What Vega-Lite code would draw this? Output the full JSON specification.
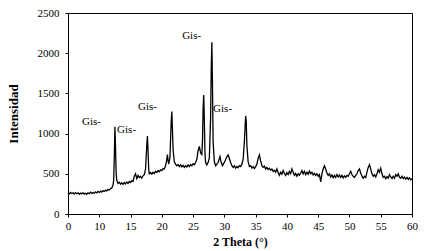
{
  "$schema": "https://vega.github.io/schema/vega-lite/v6.json",
  "width": 344,
  "height": 201,
  "autosize": "none",
  "padding": {"left": 68, "top": 13, "right": 20, "bottom": 37},
  "background": "white",
  "config": {
    "view": {"stroke": "black", "strokeWidth": 1},
    "axis": {"grid": false, "domainColor": "black", "tickColor": "black", "labelColor": "black", "titleColor": "black", "labelFont": "Liberation Serif", "titleFont": "Liberation Serif", "labelFontSize": 11, "titleFontSize": 11, "tickSize": 3, "labelOverlap": false}
  },
  "datasets": {
    "xrd": [
      {"t":5.0,"i":262},{"t":5.2,"i":250},{"t":5.4,"i":268},{"t":5.6,"i":255},{"t":5.8,"i":264},{"t":6.0,"i":248},{"t":6.2,"i":266},{"t":6.4,"i":252},{"t":6.6,"i":262},{"t":6.8,"i":245},
      {"t":7.0,"i":260},{"t":7.2,"i":250},{"t":7.4,"i":266},{"t":7.6,"i":248},{"t":7.8,"i":258},{"t":8.0,"i":244},{"t":8.2,"i":262},{"t":8.4,"i":252},{"t":8.6,"i":270},{"t":8.8,"i":255},
      {"t":9.0,"i":266},{"t":9.2,"i":258},{"t":9.4,"i":276},{"t":9.6,"i":262},{"t":9.8,"i":280},{"t":10.0,"i":268},{"t":10.2,"i":284},{"t":10.4,"i":272},{"t":10.6,"i":290},{"t":10.8,"i":280},
      {"t":11.0,"i":296},{"t":11.2,"i":286},{"t":11.4,"i":304},{"t":11.6,"i":298},{"t":11.8,"i":316},{"t":12.0,"i":322},{"t":12.2,"i":360},{"t":12.3,"i":420},{"t":12.4,"i":700},{"t":12.5,"i":1085},
      {"t":12.6,"i":820},{"t":12.7,"i":500},{"t":12.8,"i":420},{"t":13.0,"i":380},{"t":13.2,"i":395},{"t":13.4,"i":370},{"t":13.6,"i":388},{"t":13.8,"i":368},{"t":14.0,"i":392},{"t":14.2,"i":375},
      {"t":14.4,"i":398},{"t":14.6,"i":380},{"t":14.8,"i":404},{"t":15.0,"i":392},{"t":15.2,"i":415},{"t":15.4,"i":405},{"t":15.6,"i":470},{"t":15.8,"i":500},{"t":16.0,"i":440},{"t":16.2,"i":480},
      {"t":16.4,"i":455},{"t":16.6,"i":470},{"t":16.8,"i":445},{"t":17.0,"i":475},{"t":17.2,"i":490},{"t":17.4,"i":560},{"t":17.6,"i":860},{"t":17.7,"i":970},{"t":17.8,"i":780},{"t":17.9,"i":560},
      {"t":18.0,"i":500},{"t":18.2,"i":515},{"t":18.4,"i":495},{"t":18.6,"i":520},{"t":18.8,"i":505},{"t":19.0,"i":530},{"t":19.2,"i":515},{"t":19.4,"i":540},{"t":19.6,"i":525},{"t":19.8,"i":548},
      {"t":20.0,"i":540},{"t":20.2,"i":565},{"t":20.4,"i":560},{"t":20.6,"i":600},{"t":20.8,"i":680},{"t":20.9,"i":740},{"t":21.0,"i":660},{"t":21.1,"i":620},{"t":21.3,"i":700},{"t":21.5,"i":1150},
      {"t":21.6,"i":1275},{"t":21.7,"i":1050},{"t":21.8,"i":800},{"t":22.0,"i":650},{"t":22.2,"i":620},{"t":22.4,"i":600},{"t":22.6,"i":615},{"t":22.8,"i":590},{"t":23.0,"i":610},{"t":23.2,"i":585},
      {"t":23.4,"i":605},{"t":23.6,"i":580},{"t":23.8,"i":600},{"t":24.0,"i":585},{"t":24.2,"i":610},{"t":24.4,"i":590},{"t":24.6,"i":615},{"t":24.8,"i":600},{"t":25.0,"i":625},{"t":25.2,"i":612},
      {"t":25.4,"i":640},{"t":25.6,"i":680},{"t":25.8,"i":790},{"t":26.0,"i":840},{"t":26.2,"i":760},{"t":26.4,"i":740},{"t":26.5,"i":900},{"t":26.6,"i":1300},{"t":26.7,"i":1480},{"t":26.8,"i":1150},
      {"t":26.9,"i":750},{"t":27.0,"i":640},{"t":27.2,"i":610},{"t":27.4,"i":640},{"t":27.6,"i":700},{"t":27.8,"i":1200},{"t":27.9,"i":1800},{"t":28.0,"i":2135},{"t":28.1,"i":1600},{"t":28.2,"i":900},
      {"t":28.4,"i":650},{"t":28.6,"i":600},{"t":28.8,"i":620},{"t":29.0,"i":640},{"t":29.3,"i":715},{"t":29.5,"i":640},{"t":29.7,"i":600},{"t":29.9,"i":630},{"t":30.1,"i":660},{"t":30.4,"i":710},
      {"t":30.6,"i":735},{"t":30.8,"i":690},{"t":31.0,"i":640},{"t":31.2,"i":600},{"t":31.4,"i":580},{"t":31.6,"i":600},{"t":31.8,"i":570},{"t":32.0,"i":590},{"t":32.2,"i":575},{"t":32.4,"i":600},
      {"t":32.6,"i":590},{"t":32.8,"i":620},{"t":33.0,"i":680},{"t":33.2,"i":900},{"t":33.4,"i":1220},{"t":33.5,"i":1150},{"t":33.6,"i":850},{"t":33.8,"i":650},{"t":34.0,"i":590},{"t":34.2,"i":600},
      {"t":34.4,"i":570},{"t":34.6,"i":590},{"t":34.8,"i":565},{"t":35.0,"i":590},{"t":35.2,"i":620},{"t":35.4,"i":690},{"t":35.6,"i":735},{"t":35.8,"i":660},{"t":36.0,"i":600},{"t":36.2,"i":580},
      {"t":36.4,"i":595},{"t":36.6,"i":560},{"t":36.8,"i":580},{"t":37.0,"i":555},{"t":37.2,"i":570},{"t":37.4,"i":545},{"t":37.6,"i":560},{"t":37.8,"i":530},{"t":38.0,"i":545},{"t":38.2,"i":520},
      {"t":38.4,"i":560},{"t":38.6,"i":515},{"t":38.8,"i":480},{"t":39.0,"i":520},{"t":39.2,"i":495},{"t":39.4,"i":540},{"t":39.6,"i":505},{"t":39.8,"i":480},{"t":40.0,"i":515},{"t":40.2,"i":490},
      {"t":40.4,"i":530},{"t":40.6,"i":500},{"t":40.8,"i":560},{"t":41.0,"i":520},{"t":41.2,"i":480},{"t":41.4,"i":505},{"t":41.6,"i":470},{"t":41.8,"i":500},{"t":42.0,"i":480},{"t":42.2,"i":510},
      {"t":42.4,"i":540},{"t":42.6,"i":500},{"t":42.8,"i":530},{"t":43.0,"i":490},{"t":43.2,"i":520},{"t":43.4,"i":495},{"t":43.6,"i":535},{"t":43.8,"i":500},{"t":44.0,"i":520},{"t":44.2,"i":485},
      {"t":44.4,"i":505},{"t":44.6,"i":480},{"t":44.8,"i":500},{"t":45.0,"i":470},{"t":45.2,"i":490},{"t":45.4,"i":400},{"t":45.6,"i":500},{"t":45.8,"i":560},{"t":46.0,"i":600},{"t":46.2,"i":560},
      {"t":46.4,"i":510},{"t":46.6,"i":480},{"t":46.8,"i":500},{"t":47.0,"i":460},{"t":47.2,"i":485},{"t":47.4,"i":450},{"t":47.6,"i":480},{"t":47.8,"i":455},{"t":48.0,"i":490},{"t":48.2,"i":460},
      {"t":48.4,"i":485},{"t":48.6,"i":455},{"t":48.8,"i":480},{"t":49.0,"i":450},{"t":49.2,"i":475},{"t":49.4,"i":455},{"t":49.6,"i":480},{"t":49.8,"i":470},{"t":50.0,"i":500},{"t":50.2,"i":530},
      {"t":50.4,"i":490},{"t":50.6,"i":470},{"t":50.8,"i":455},{"t":51.0,"i":480},{"t":51.2,"i":500},{"t":51.4,"i":540},{"t":51.6,"i":560},{"t":51.8,"i":510},{"t":52.0,"i":470},{"t":52.2,"i":445},
      {"t":52.4,"i":470},{"t":52.6,"i":455},{"t":52.8,"i":520},{"t":53.0,"i":580},{"t":53.2,"i":615},{"t":53.4,"i":560},{"t":53.6,"i":500},{"t":53.8,"i":470},{"t":54.0,"i":490},{"t":54.2,"i":460},
      {"t":54.4,"i":500},{"t":54.6,"i":550},{"t":54.8,"i":520},{"t":55.0,"i":570},{"t":55.2,"i":500},{"t":55.4,"i":455},{"t":55.6,"i":470},{"t":55.8,"i":440},{"t":56.0,"i":465},{"t":56.2,"i":445},
      {"t":56.4,"i":490},{"t":56.6,"i":460},{"t":56.8,"i":440},{"t":57.0,"i":470},{"t":57.2,"i":445},{"t":57.4,"i":490},{"t":57.6,"i":470},{"t":57.8,"i":500},{"t":58.0,"i":460},{"t":58.2,"i":445},
      {"t":58.4,"i":470},{"t":58.6,"i":440},{"t":58.8,"i":460},{"t":59.0,"i":435},{"t":59.2,"i":455},{"t":59.4,"i":430},{"t":59.6,"i":450},{"t":59.8,"i":425},{"t":60.0,"i":440}
    ],
    "labels": [
      {"t":7.24,"i":1144,"label":"Gis-"},
      {"t":12.85,"i":1045,"label":"Gis-"},
      {"t":16.2,"i":1331,"label":"Gis-"},
      {"t":23.25,"i":2214,"label":"Gis-"},
      {"t":28.2,"i":1306,"label":"Gis-"}
    ]
  },
  "encoding": {
    "x": {"field": "t", "type": "quantitative", "scale": {"domain": [5, 60], "nice": false, "zero": false},
      "axis": {"values": [5,10,15,20,25,30,35,40,45,50,55,60], "labelExpr": "datum.value < 7 ? '0' : format(datum.value, 'd')", "labelOverlap": false, "title": "2 Theta (°)", "titleFontWeight": "bold", "titleFontSize": 12, "labelPadding": 3, "titlePadding": 5, "labelFlush": false}},
    "y": {"field": "i", "type": "quantitative", "scale": {"domain": [0, 2500], "nice": false},
      "axis": {"values": [0,500,1000,1500,2000,2500], "format": "d", "labelOverlap": false, "title": "Intensidad", "titleFontWeight": "bold", "titleFontSize": 13, "labelPadding": 6, "titlePadding": 17, "labelFlush": false}}
  },
  "layer": [
    {
      "data": {"name": "xrd"},
      "mark": {"type": "line", "color": "black", "strokeWidth": 1.3, "strokeJoin": "miter"}
    },
    {
      "data": {"name": "labels"},
      "mark": {"type": "text", "align": "left", "baseline": "middle", "font": "Liberation Serif", "fontSize": 11, "color": "black"},
      "encoding": {
        "text": {"field": "label"}
      }
    }
  ]
}
